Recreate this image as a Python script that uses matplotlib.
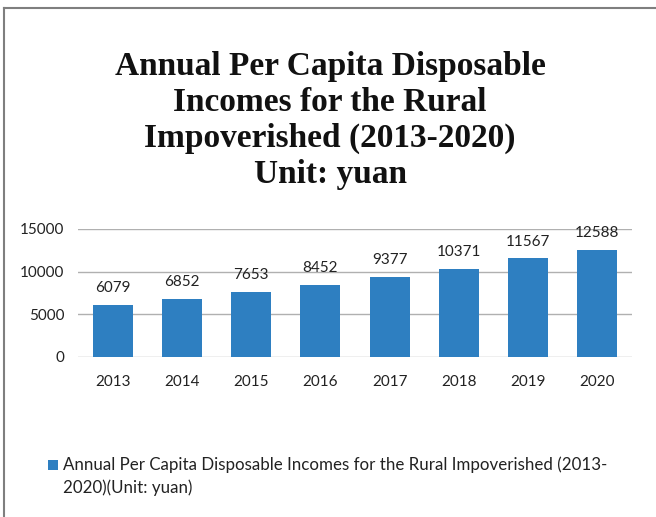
import matplotlib
matplotlib.use("Agg")
import matplotlib.pyplot as plt
from matplotlib.lines import Line2D
from matplotlib.patches import Rectangle

years = ["2013", "2014", "2015", "2016", "2017", "2018", "2019", "2020"]
incomes = [6079, 6852, 7653, 8452, 9377, 10371, 11567, 12588]
y_ticks = [0, 5000, 10000, 15000]

title = "Annual Per Capita Disposable\nIncomes for the Rural\nImpoverished (2013-2020)\nUnit: yuan"
series_name = "Annual Per Capita Disposable Incomes for the Rural Impoverished (2013-\n2020)(Unit: yuan)"

FONT = "Lato"
BAR_COLOR = "#2E7FC1"
W, H = 656, 517
fig = plt.figure(figsize=(W / 100, H / 100), dpi=100)
fig.patch.set_facecolor("white")

# outer frame (top and left edges)
fig.add_artist(Line2D([4 / W, 1.0], [1 - 8 / H, 1 - 8 / H], color="#7f7f7f", lw=1.5))
fig.add_artist(Line2D([4 / W, 4 / W], [0, 1 - 8 / H], color="#7f7f7f", lw=1.5))

fig.text(330 / W, 1 - 51 / H, title, ha="center", va="top",
         fontfamily="Liberation Serif", fontweight="bold", fontsize=24,
         linespacing=1.2, color="#111111")

ax = fig.add_axes([78 / W, 1 - 357 / H, (632 - 78) / W, (357 - 229) / H])
x = range(len(years))
ax.bar(x, incomes, width=0.58, color=BAR_COLOR, zorder=3)
ax.set_xlim(-0.5, len(years) - 0.5)
ax.set_ylim(0, 15000)
ax.set_yticks(y_ticks)
ax.set_yticklabels([str(v) for v in y_ticks])
ax.set_xticks(list(x))
ax.set_xticklabels(years)
ax.grid(axis="y", color="#b0b0b0", lw=1.0, zorder=0)
for s in ax.spines.values():
    s.set_visible(False)
ax.tick_params(length=0, labelsize=11, colors="#222222")
ax.tick_params(axis="x", pad=13)
ax.tick_params(axis="y", pad=10)
for lbl in ax.get_xticklabels() + ax.get_yticklabels():
    lbl.set_fontfamily(FONT)

for xi, v in zip(x, incomes):
    ax.annotate(str(v), (xi, v), xytext=(0, 7), textcoords="offset points",
                ha="center", va="bottom", fontsize=11, fontfamily=FONT,
                color="#222222", clip_on=False)

# legend: swatch aligned with the first line of the wrapped label
fig.add_artist(Rectangle((48 / W, 1 - 470 / H), 10 / W, 10 / H,
                         transform=fig.transFigure, facecolor=BAR_COLOR,
                         edgecolor="none"))
fig.text(63 / W, 1 - 456 / H, series_name, ha="left", va="top",
         fontfamily=FONT, fontsize=12.2, linespacing=1.5, color="#222222")

fig.savefig("out.png", dpi=100)
